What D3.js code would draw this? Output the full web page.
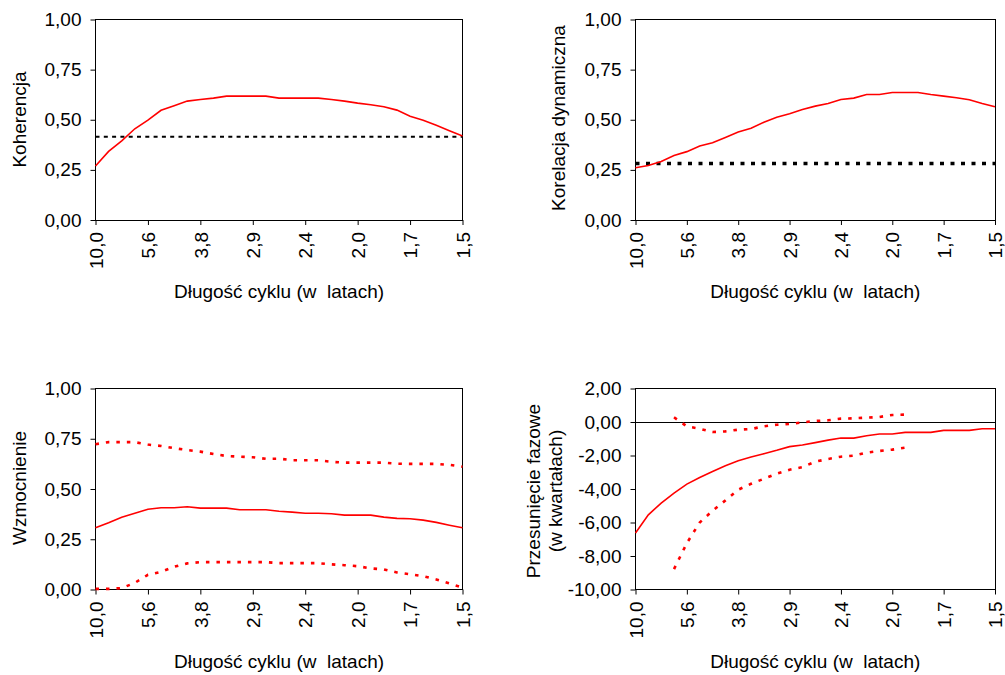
<!DOCTYPE html>
<html>
<head>
<meta charset="utf-8">
<script src="https://cdn.jsdelivr.net/npm/d3@7"></script>
<style>
    body { margin: 0; background: #fff; }
    text { font-family: "Liberation Sans", Arial, sans-serif; font-size: 19px; fill: #000; }
    .domain { display: none; }
</style>
</head>
<body>
<div id="chart"></div>
<script>
// tick labels on the x axis (cycle length in years), one every 4 points
var xLabels = ["10,0", "5,6", "3,8", "2,9", "2,4", "2,0", "1,7", "1,5"];

var coherence = [0.269, 0.342, 0.395, 0.455, 0.498, 0.547, 0.570, 0.593, 0.601, 0.608, 0.618, 0.618, 0.618, 0.618, 0.608,
    0.608, 0.608, 0.608, 0.601, 0.593, 0.583, 0.575, 0.565, 0.548, 0.518, 0.498, 0.472, 0.445, 0.419];
var coherenceCrit = 0.415;

var dynCorr = [0.261, 0.272, 0.292, 0.322, 0.341, 0.369, 0.385, 0.412, 0.439, 0.458, 0.488, 0.512, 0.530, 0.551, 0.568,
    0.581, 0.601, 0.608, 0.626, 0.626, 0.636, 0.636, 0.636, 0.626, 0.618, 0.610, 0.600, 0.581, 0.565];
var dynCorrCrit = 0.282;

var gain = [0.307, 0.332, 0.360, 0.379, 0.399, 0.407, 0.407, 0.412, 0.405, 0.405, 0.405, 0.397, 0.397, 0.397, 0.389,
    0.385, 0.379, 0.379, 0.377, 0.370, 0.370, 0.370, 0.360, 0.354, 0.352, 0.345, 0.334, 0.320, 0.307];
var gainUpper = [0.723, 0.733, 0.733, 0.733, 0.721, 0.714, 0.703, 0.694, 0.686, 0.674, 0.664, 0.661, 0.658, 0.650, 0.651,
    0.643, 0.643, 0.643, 0.635, 0.631, 0.631, 0.631, 0.631, 0.626, 0.625, 0.625, 0.625, 0.620, 0.611];
var gainLower = [0.003, 0.003, 0.007, 0.033, 0.073, 0.088, 0.113, 0.130, 0.136, 0.136, 0.136, 0.136, 0.136, 0.136, 0.131,
    0.131, 0.131, 0.131, 0.125, 0.121, 0.116, 0.105, 0.100, 0.085, 0.076, 0.066, 0.050, 0.030, 0.010];

var phase = [-6.63, -5.54, -4.84, -4.24, -3.71, -3.31, -2.95, -2.61, -2.31, -2.09, -1.89, -1.69, -1.47, -1.37, -1.23,
    -1.08, -0.96, -0.96, -0.82, -0.72, -0.72, -0.62, -0.62, -0.62, -0.50, -0.50, -0.50, -0.40, -0.40];
var phaseUpper = [null, null, null, 0.28, -0.26, -0.40, -0.60, -0.56, -0.46, -0.42, -0.26, -0.16, -0.12, -0.02, 0.06,
    0.10, 0.20, 0.22, 0.26, 0.30, 0.42, 0.44, null, null, null, null, null, null, null];
var phaseLower = [null, null, null, -8.78, -7.23, -6.00, -5.30, -4.68, -4.04, -3.69, -3.39, -3.09, -2.85, -2.69, -2.37,
    -2.21, -2.07, -2.01, -1.83, -1.73, -1.65, -1.53, null, null, null, null, null, null, null];

var yTicksUnit = [0, 0.25, 0.5, 0.75, 1];
var yTicksPhase = [-10, -8, -6, -4, -2, 0, 2];

var xTitle = "Długość cyklu (w\u00a0 latach)";

var svg = d3.select("#chart").append("svg")
    .attr("width", 1005)
    .attr("height", 675);

var fmt = d3.formatLocale({decimal: ",", thousands: " ", grouping: [3], currency: ["", ""], minus: "-"}).format(".2f");

function drawPanel(p) {
    var width = p.right - p.left;
    var height = p.bottom - p.top;
    var nPts = p.series[0].values.length;

    var g = svg.append("g")
        .attr("transform", "translate(" + p.left + "," + p.top + ")");

    var x = d3.scaleLinear().domain([0, nPts - 1]).range([0, width]);
    var y = d3.scaleLinear().domain(p.yDomain).range([height, 0]);

    var step = (nPts - 1) / (xLabels.length - 1);

    // y axis
    var yAxis = g.append("g")
        .call(d3.axisLeft(y).tickValues(p.yTicks).tickSize(5).tickSizeOuter(0).tickPadding(9).tickFormat(fmt));
    yAxis.selectAll("line").attr("stroke", "#000");

    // x axis
    var xAxis = g.append("g")
        .attr("transform", "translate(0," + height + ")")
        .call(d3.axisBottom(x)
            .tickValues(xLabels.map(function(d, i) { return i * step; }))
            .tickSize(5).tickSizeOuter(0)
            .tickFormat(function(d, i) { return xLabels[i]; }));
    xAxis.selectAll("line").attr("stroke", "#000");
    xAxis.selectAll("text")
        .attr("transform", "rotate(-90)")
        .attr("x", -12)
        .attr("y", 0)
        .attr("dy", "0.35em")
        .style("text-anchor", "end");

    // plot frame
    g.append("rect")
        .attr("x", 0).attr("y", 0)
        .attr("width", width).attr("height", height)
        .attr("fill", "none")
        .attr("stroke", "#000")
        .attr("stroke-width", 1)
        .attr("shape-rendering", "crispEdges");

    if (p.zeroLine) {
        g.append("line")
            .attr("x1", 0).attr("x2", width)
            .attr("y1", y(0)).attr("y2", y(0))
            .attr("stroke", "#000")
            .attr("shape-rendering", "crispEdges");
    }

    if (p.crit !== undefined) {
        g.append("line")
            .attr("x1", 0).attr("x2", width)
            .attr("y1", y(p.crit)).attr("y2", y(p.crit))
            .attr("stroke", "#000")
            .attr("stroke-width", p.critStyle.width)
            .attr("stroke-dasharray", p.critStyle.dash);
    }

    var line = d3.line()
        .defined(function(d) { return d !== null; })
        .x(function(d, i) { return x(i); })
        .y(function(d) { return y(d); });

    p.series.forEach(function(s) {
        g.append("path")
            .datum(s.values)
            .attr("fill", "none")
            .attr("stroke", "#ff0000")
            .attr("stroke-width", s.dashed ? 2.6 : 1.6)
            .attr("stroke-dasharray", s.dashed ? "3.5,7" : null)
            .attr("d", line);
    });

    // titles
    svg.append("text")
        .attr("x", p.left + width / 2)
        .attr("y", p.bottom + 78)
        .style("text-anchor", "middle")
        .text(xTitle);

    p.yTitle.forEach(function(t, i) {
        svg.append("text")
            .attr("transform", "translate(" + p.yTitleX[i] + "," + p.yTitleY + ") rotate(-90)")
            .style("text-anchor", "middle")
            .text(t);
    });
}

drawPanel({
    left: 95.5, right: 462.5, top: 19.5, bottom: 220,
    yDomain: [0, 1], yTicks: yTicksUnit,
    series: [{values: coherence}],
    crit: coherenceCrit, critStyle: {width: 2, dash: "4,4.3"},
    yTitle: ["Koherencja"], yTitleX: [26], yTitleY: 119.5
});

drawPanel({
    left: 635.5, right: 995, top: 19.5, bottom: 220,
    yDomain: [0, 1], yTicks: yTicksUnit,
    series: [{values: dynCorr}],
    crit: dynCorrCrit, critStyle: {width: 3.5, dash: "4,6.5"},
    yTitle: ["Korelacja dynamiczna"], yTitleX: [565], yTitleY: 118
});

drawPanel({
    left: 95.5, right: 462.5, top: 388.5, bottom: 589.5,
    yDomain: [0, 1], yTicks: yTicksUnit,
    series: [{values: gain}, {values: gainUpper, dashed: true}, {values: gainLower, dashed: true}],
    yTitle: ["Wzmocnienie"], yTitleX: [26], yTitleY: 488
});

drawPanel({
    left: 635.5, right: 995, top: 388.5, bottom: 589.5,
    yDomain: [-10, 2], yTicks: yTicksPhase, zeroLine: true,
    series: [{values: phase}, {values: phaseUpper, dashed: true}, {values: phaseLower, dashed: true}],
    yTitle: ["Przesunięcie fazowe", "(w kwartałach)"], yTitleX: [540, 562], yTitleY: 491
});
</script>
</body>
</html>
